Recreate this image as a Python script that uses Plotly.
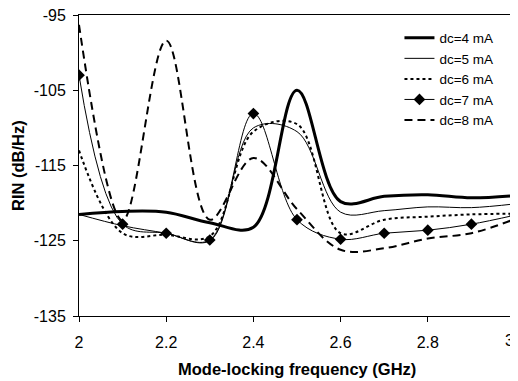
import plotly.graph_objects as go

freq = [2.0, 2.1, 2.2, 2.3, 2.4, 2.5, 2.6, 2.7, 2.8, 2.9, 3.0]
dc4 = [-121.5, -121.1, -121.2, -122.6, -123.2, -105.0, -119.8, -119.1, -118.9, -119.3, -119.0]
dc5 = [-121.5, -123.0, -124.0, -125.0, -110.0, -110.5, -121.2, -121.0, -120.5, -120.6, -120.1]
dc6 = [-113.0, -124.0, -124.2, -124.4, -110.5, -109.5, -124.0, -122.2, -121.8, -121.5, -121.4]
dc7 = [-103.0, -122.8, -124.0, -124.9, -108.1, -122.2, -124.8, -124.0, -123.6, -122.8, -121.6]
dc8 = [-96.3, -122.3, -98.4, -122.2, -114.0, -120.8, -126.2, -126.0, -124.7, -124.0, -122.1]

x_ticks = [2, 2.2, 2.4, 2.6, 2.8, 3]
x_tick_labels = ["2", "2.2", "2.4", "2.6", "2.8", "3"]
y_ticks = [-135, -125, -115, -105, -95]
y_tick_labels = ["-135", "-125", "-115", "-105", "-95"]

font = "Liberation Sans, Arial, sans-serif"

fig = go.Figure()
fig.add_trace(go.Scatter(x=freq, y=dc4, name="dc=4 mA", mode="lines",
                         line=dict(color="black", width=3, shape="spline", smoothing=1)))
fig.add_trace(go.Scatter(x=freq, y=dc5, name="dc=5 mA", mode="lines",
                         line=dict(color="black", width=1, shape="spline", smoothing=1)))
fig.add_trace(go.Scatter(x=freq, y=dc6, name="dc=6 mA", mode="lines",
                         line=dict(color="black", width=2, dash="dot", shape="spline", smoothing=1)))
fig.add_trace(go.Scatter(x=freq, y=dc7, name="dc=7 mA", mode="lines+markers",
                         line=dict(color="black", width=1, shape="spline", smoothing=1),
                         marker=dict(symbol="diamond", size=9, color="black")))
fig.add_trace(go.Scatter(x=freq, y=dc8, name="dc=8 mA", mode="lines",
                         line=dict(color="black", width=2, dash="8px,5px", shape="spline", smoothing=1)))

# the last x tick label sits on the page edge; draw it as an annotation kept inside the page
edge_label = dict(text=x_tick_labels[-1], xref="x", yref="paper", x=x_ticks[-1], y=-0.08,
                  xanchor="right", xshift=1, yanchor="middle", showarrow=False,
                  font=dict(size=16))

# page body has an 8px margin, so the figure is sized/offset to compensate
fig.update_layout(
    width=510, height=373,
    margin=dict(l=71, r=3, t=7, b=65),
    paper_bgcolor="white", plot_bgcolor="white",
    font=dict(family=font, size=16, color="black"),
    showlegend=True,
    legend=dict(x=0.735, y=0.975, xanchor="left", yanchor="top",
                bgcolor="rgba(0,0,0,0)", font=dict(size=13.5), tracegroupgap=0,
                itemwidth=30),
    annotations=[
        dict(text="<b>Mode-locking frequency (GHz)</b>", xref="paper", yref="paper",
             x=0.5, y=-0.176, xanchor="center", yanchor="middle", showarrow=False,
             font=dict(size=16.5)),
        dict(text="<b>RIN (dB/Hz)</b>", xref="paper", yref="paper",
             x=-0.141, y=0.5, xanchor="center", yanchor="middle", showarrow=False,
             textangle=-90, font=dict(size=16.5)),
        edge_label,
    ],
)
fig.update_xaxes(range=[2, 3], tickvals=x_ticks, ticktext=x_tick_labels[:-1] + [""],
                 showgrid=False, zeroline=False, showline=True, linecolor="black", linewidth=1,
                 mirror=True, ticks="outside", ticklen=5, tickcolor="black",
                 automargin=False, ticklabeloverflow="allow", ticklabelstandoff=7)
fig.update_yaxes(range=[-135, -95], tickvals=y_ticks, ticktext=y_tick_labels,
                 showgrid=False, zeroline=False, showline=True, linecolor="black", linewidth=1,
                 mirror=True, ticks="outside", ticklen=5, tickcolor="black",
                 automargin=False, ticklabeloverflow="allow", ticklabelstandoff=4)

fig.write_html("out.html")
